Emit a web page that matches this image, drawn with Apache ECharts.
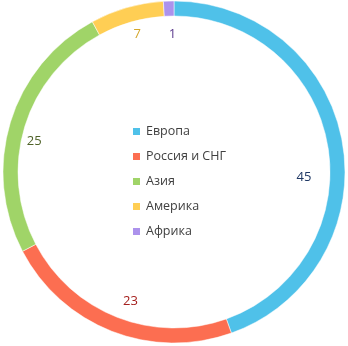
<!DOCTYPE html>
<html><head><meta charset="utf-8">
<script src="https://cdn.jsdelivr.net/npm/echarts@6/dist/echarts.min.js"></script>
<style>html,body{margin:0;padding:0;background:#fff}#c{width:348px;height:346px}</style>
</head><body><div id="c"></div>
<script>
const categories = ["Европа", "Россия и СНГ", "Азия", "Америка", "Африка"];
const values = [45, 23, 25, 7, 1];
const colors = ["#4FC1E9", "#FC6E51", "#A0D468", "#FFCE54", "#AC92EC"];
const labelColors = ["#1F3864", "#A5201E", "#4F6228", "#D4A72C", "#5B3A8C"];
const labelOffsets = [[-12, 30], [9, -5], [-2, 11], [3, 1], [3, 6]];

const chart = echarts.init(document.getElementById('c'));
const ringData = categories.map((n, i) => ({name: n, value: values[i], itemStyle: {color: colors[i]}}));
const labelData = categories.map((n, i) => ({
  name: n, value: values[i],
  label: {color: labelColors[i], offset: labelOffsets[i]}
}));
chart.setOption({
  animation: false,
  legend: {
    orient: 'vertical', left: 131, top: 125, padding: 0,
    itemWidth: 9, itemHeight: 9, itemGap: 12, icon: 'rect',
    textStyle: {fontFamily: 'Open Sans', fontSize: 12.5, color: '#404040', padding: [0, 0, 0, 0]},
    data: categories
  },
  series: [{
    type: 'pie', radius: [156, 171], center: [174, 172], startAngle: 90, clockwise: true,
    label: {show: false}, labelLine: {show: false},
    itemStyle: {borderColor: '#fff', borderWidth: 0.5},
    data: ringData, silent: true
  }, {
    type: 'pie', radius: [0, 282], center: [174, 172], startAngle: 90, clockwise: true,
    itemStyle: {color: 'rgba(0,0,0,0)'}, labelLine: {show: false},
    label: {show: true, position: 'inside', formatter: '{c}', fontFamily: 'Open Sans', fontSize: 13},
    data: labelData, silent: true, legendHoverLink: false
  }]
});
</script></body></html>
